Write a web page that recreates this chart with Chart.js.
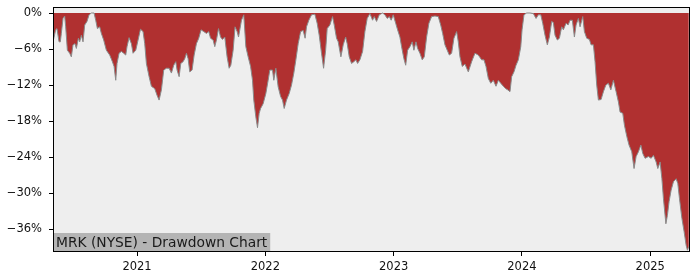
<!DOCTYPE html>
<html>
<head>
<meta charset="utf-8">
<script src="https://cdn.jsdelivr.net/npm/chart.js@4.4.1/dist/chart.umd.min.js"></script>
<style>
  html, body { margin: 0; padding: 0; background: #fff; }
  #wrap { width: 700px; height: 280px; }
</style>
</head>
<body>
<div id="wrap"><canvas id="ddChart"></canvas></div>
<script>
// decimal years
const dates = [
    2020.345, 2020.366, 2020.376, 2020.392, 2020.402, 2020.410, 2020.423, 2020.436, 2020.444, 2020.457,
    2020.475, 2020.488, 2020.501, 2020.516, 2020.527, 2020.543, 2020.553, 2020.566, 2020.579, 2020.592,
    2020.610, 2020.626, 2020.644, 2020.665, 2020.678, 2020.691, 2020.709, 2020.722, 2020.740, 2020.761,
    2020.787, 2020.808, 2020.821, 2020.834, 2020.844, 2020.860, 2020.878, 2020.896, 2020.912, 2020.922,
    2020.938, 2020.956, 2020.969, 2020.990, 2021.008, 2021.027, 2021.047, 2021.060, 2021.073, 2021.094,
    2021.112, 2021.138, 2021.156, 2021.172, 2021.190, 2021.208, 2021.229, 2021.250, 2021.268, 2021.286,
    2021.302, 2021.312, 2021.328, 2021.341, 2021.359, 2021.372, 2021.385, 2021.398, 2021.411, 2021.429,
    2021.445, 2021.463, 2021.481, 2021.499, 2021.520, 2021.541, 2021.559, 2021.573, 2021.593, 2021.606,
    2021.619, 2021.635, 2021.651, 2021.666, 2021.684, 2021.702, 2021.718, 2021.731, 2021.749, 2021.764,
    2021.780, 2021.791, 2021.814, 2021.832, 2021.848, 2021.866, 2021.885, 2021.900, 2021.910, 2021.926,
    2021.939, 2021.952, 2021.963, 2021.983, 2022.004, 2022.022, 2022.035, 2022.056, 2022.066, 2022.082,
    2022.100, 2022.119, 2022.134, 2022.147, 2022.165, 2022.186, 2022.204, 2022.222, 2022.238, 2022.256,
    2022.275, 2022.295, 2022.310, 2022.321, 2022.339, 2022.360, 2022.386, 2022.404, 2022.420, 2022.438,
    2022.454, 2022.470, 2022.482, 2022.503, 2022.524, 2022.537, 2022.555, 2022.568, 2022.589, 2022.607,
    2022.626, 2022.638, 2022.654, 2022.672, 2022.690, 2022.706, 2022.719, 2022.737, 2022.758, 2022.776,
    2022.794, 2022.815, 2022.836, 2022.849, 2022.867, 2022.888, 2022.914, 2022.932, 2022.950, 2022.966,
    2022.981, 2022.997, 2023.016, 2023.031, 2023.049, 2023.062, 2023.080, 2023.094, 2023.109, 2023.127,
    2023.145, 2023.158, 2023.174, 2023.187, 2023.205, 2023.223, 2023.239, 2023.257, 2023.275, 2023.296,
    2023.322, 2023.348, 2023.367, 2023.382, 2023.400, 2023.418, 2023.434, 2023.452, 2023.470, 2023.491,
    2023.504, 2023.517, 2023.535, 2023.556, 2023.582, 2023.608, 2023.634, 2023.660, 2023.686, 2023.704,
    2023.720, 2023.738, 2023.757, 2023.777, 2023.798, 2023.816, 2023.835, 2023.855, 2023.874, 2023.889,
    2023.907, 2023.920, 2023.938, 2023.954, 2023.972, 2023.991, 2024.001, 2024.016, 2024.037, 2024.063,
    2024.089, 2024.110, 2024.128, 2024.147, 2024.162, 2024.180, 2024.198, 2024.214, 2024.232, 2024.245,
    2024.258, 2024.276, 2024.292, 2024.310, 2024.323, 2024.344, 2024.360, 2024.375, 2024.393, 2024.409,
    2024.422, 2024.440, 2024.453, 2024.474, 2024.487, 2024.505, 2024.526, 2024.539, 2024.557, 2024.570,
    2024.583, 2024.596, 2024.617, 2024.635, 2024.654, 2024.674, 2024.693, 2024.713, 2024.734, 2024.752,
    2024.765, 2024.786, 2024.799, 2024.818, 2024.835, 2024.856, 2024.874, 2024.890, 2024.908, 2024.927,
    2024.942, 2024.960, 2024.986, 2025.007, 2025.025, 2025.046, 2025.059, 2025.077, 2025.091, 2025.103,
    2025.122, 2025.134, 2025.147, 2025.163, 2025.181, 2025.202, 2025.215, 2025.228, 2025.247, 2025.264,
    2025.280, 2025.290, 2025.301
];

// drawdown in percent
const drawdown = [
    -4.8, -2.8, -2.6, -4.8, -4.8, -3.4, -0.9, -0.5, -2.3, -6.2,
    -6.7, -7.3, -5.3, -5.1, -5.9, -4.2, -4.8, -3.7, -4.8, -2.0,
    -1.4, -0.3, 0, 0, -1.2, -2.6, -2.3, -3.4, -4.5, -6.2,
    -7.0, -8.1, -8.9, -11.2, -8.4, -6.7, -6.4, -6.7, -7.0, -5.6,
    -4.1, -5.1, -6.7, -6.2, -4.5, -2.7, -3.1, -5.1, -8.4, -10.6,
    -12.2, -12.6, -13.7, -14.5, -12.8, -9.5, -9.2, -9.2, -10.0, -8.7,
    -8.1, -9.5, -10.6, -8.4, -8.1, -7.6, -6.7, -7.6, -9.8, -9.5,
    -7.0, -5.1, -4.2, -2.8, -3.1, -3.4, -3.1, -4.2, -4.5, -5.6,
    -4.5, -2.6, -4.0, -4.4, -4.0, -7.3, -9.2, -8.7, -6.2, -2.3,
    -3.1, -4.0, -1.2, -0.3, -5.6, -7.3, -8.9, -11.2, -14.5, -17.3,
    -19.1, -16.7, -15.9, -15.1, -13.4, -11.2, -9.5, -9.5, -11.2, -9.2,
    -12.3, -13.9, -14.5, -15.9, -14.5, -13.4, -12.0, -10.0, -7.8, -5.1,
    -3.1, -2.9, -4.2, -2.3, -1.2, -0.3, -0.2, -1.7, -3.7, -6.7,
    -9.2, -6.2, -2.6, -2.0, -0.6, -2.0, -4.2, -4.8, -7.3, -5.3,
    -4.0, -5.1, -7.3, -8.4, -8.1, -7.8, -8.4, -7.8, -6.4, -3.1,
    -0.9, -0.1, -1.2, -0.6, -1.4, -0.3, 0, -0.3, -0.9, -0.6,
    -1.2, -0.3, -1.7, -2.8, -4.0, -5.6, -7.6, -8.7, -6.2, -5.6,
    -4.8, -6.2, -4.8, -5.9, -6.7, -7.8, -7.3, -4.0, -1.7, -0.6,
    -0.5, -0.6, -2.0, -3.4, -5.3, -6.2, -7.0, -6.7, -4.2, -3.1,
    -4.8, -7.3, -8.9, -8.5, -9.8, -8.1, -6.7, -7.0, -7.8, -7.8,
    -8.9, -10.9, -11.7, -11.2, -12.2, -11.2, -11.7, -12.2, -12.6, -12.8,
    -13.1, -10.6, -9.8, -8.7, -7.8, -5.6, -2.8, -0.3, 0, 0,
    -0.1, -0.9, -0.3, -0.3, -1.7, -3.7, -5.3, -4.0, -1.4, -1.6,
    -3.7, -4.5, -4.2, -2.3, -2.8, -1.7, -2.0, -1.2, -1.2, -4.0,
    -2.0, -0.9, -2.3, -0.6, -3.1, -4.2, -4.4, -5.3, -5.3, -8.1,
    -12.0, -14.5, -14.4, -13.1, -12.0, -11.7, -12.8, -11.2, -13.1, -14.8,
    -16.5, -16.7, -18.7, -20.6, -22.0, -23.1, -25.9, -23.9, -23.1, -22.0,
    -23.4, -24.2, -23.9, -24.2, -23.7, -24.8, -25.9, -24.8, -27.6, -30.9,
    -35.1, -33.7, -31.4, -29.5, -28.1, -27.6, -28.4, -30.9, -34.2, -36.4,
    -38.7, -39.5, -38.9
];

const xTickYears = [2021, 2022, 2023, 2024, 2025];
const yTickValues = [0, -6, -12, -18, -24, -30, -36];
const chartLabel = 'MRK (NYSE) - Drawdown Chart';

const points = dates.map((d, i) => ({ x: d, y: drawdown[i] }));

const ctx = document.getElementById('ddChart').getContext('2d');

const ddChart = new Chart(ctx, {
    type: 'line',
    data: {
        datasets: [{
            data: points,
            borderColor: '#8a8a8a',
            borderWidth: 1,
            backgroundColor: '#b03030',
            fill: 'origin',
            pointRadius: 0,
            tension: 0
        }]
    },
    options: {
        responsive: true,
        maintainAspectRatio: false,
        animation: false,
        layout: {
            padding: { top: 7, right: 10, left: 0, bottom: 0 }
        },
        plugins: {
            legend: { display: false },
            tooltip: { enabled: false }
        },
        scales: {
            x: {
                type: 'linear',
                min: 2020.345,
                max: 2025.31,
                afterBuildTicks: (scale) => { scale.ticks = xTickYears.map(v => ({ value: v })); },
                afterFit: (scale) => {
                    scale.height = 28;
                    scale.paddingLeft = 0;
                    scale.paddingRight = 0;
                },
                border: { display: false },
                grid: { drawOnChartArea: false, tickLength: 4, tickColor: '#000' },
                ticks: {
                    color: '#111',
                    padding: 4,
                    maxRotation: 0,
                    font: { family: 'DejaVu Sans', size: 11.5 },
                    callback: (v) => String(v)
                }
            },
            y: {
                min: -39.8,
                max: 1.0,
                afterBuildTicks: (scale) => { scale.ticks = yTickValues.map(v => ({ value: v })); },
                afterFit: (scale) => {
                    scale.width = 53;
                    // the 0% label sits below the top edge, so no extra room is needed
                    scale.paddingTop = 0;
                    scale.paddingBottom = 0;
                },
                border: { display: false },
                grid: { drawOnChartArea: false, tickLength: 4, tickColor: '#000' },
                ticks: {
                    color: '#111',
                    padding: 7,
                    font: { family: 'DejaVu Sans', size: 11.5 },
                    callback: (v) => (v < 0 ? '\u2212' : '') + Math.abs(v) + '%'
                }
            }
        }
    },
    plugins: [{
        id: 'plotBackground',
        beforeDraw: function(chart) {
            const a = chart.chartArea;
            const c = chart.ctx;
            c.save();
            c.fillStyle = '#eeeeee';
            c.fillRect(a.left, a.top, a.right - a.left, a.bottom - a.top);
            c.restore();
        }
    }, {
        id: 'labelAndFrame',
        afterDraw: function(chart) {
            const a = chart.chartArea;
            const c = chart.ctx;
            c.save();
            // label box in the lower left corner
            c.font = '13.8px "DejaVu Sans"';
            const w = c.measureText(chartLabel).width;
            c.fillStyle = '#b4b4b4';
            c.fillRect(a.left, a.bottom - 19, w + 6, 19);
            c.fillStyle = '#1a1a1a';
            c.textBaseline = 'middle';
            c.fillText(chartLabel, a.left + 3, a.bottom - 9);
            // frame
            c.strokeStyle = '#000';
            c.lineWidth = 1;
            c.strokeRect(Math.round(a.left) + 0.5, Math.round(a.top) + 0.5,
                Math.round(a.right - a.left) - 1, Math.round(a.bottom - a.top) - 1);
            c.restore();
        }
    }]
});
</script>
</body>
</html>
